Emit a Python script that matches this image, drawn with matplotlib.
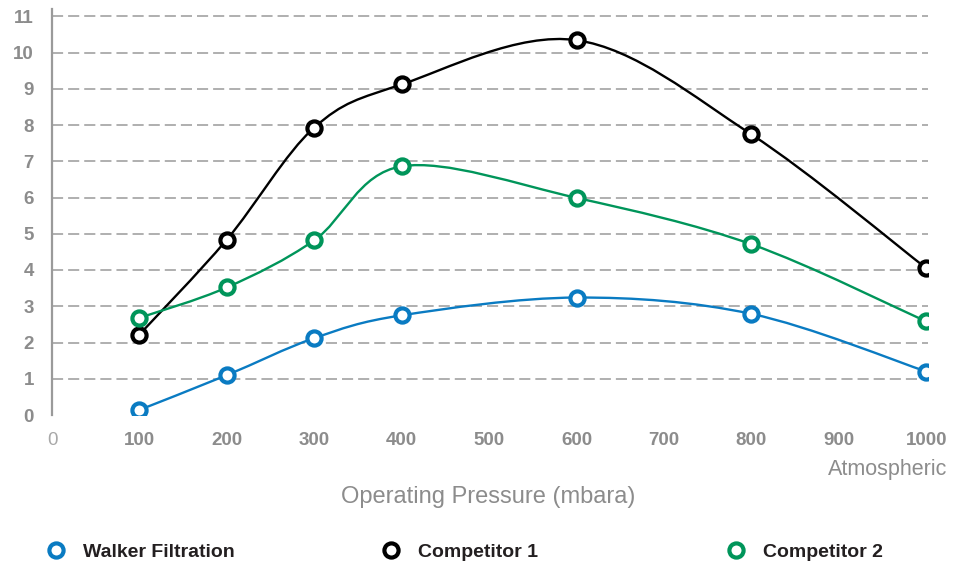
import numpy as np
import matplotlib
matplotlib.use("Agg")
import matplotlib.pyplot as plt
from matplotlib.path import Path
from matplotlib.patches import PathPatch

plt.rcParams['font.family'] = ['Liberation Sans', 'DejaVu Sans']
plt.rcParams['lines.scale_dashes'] = False

# data
pressure = [100, 200, 300, 400, 600, 800, 1000]
walker = [0.14, 1.10, 2.12, 2.75, 3.24, 2.79, 1.20]
comp1 = [2.22, 4.84, 7.93, 9.12, 10.34, 7.74, 4.05]
comp2 = [2.68, 3.52, 4.82, 6.86, 5.99, 4.71, 2.58]
series_names = ["Walker Filtration", "Competitor 1", "Competitor 2"]
series_colors = ["#0a7bc2", "#000000", "#00955a"]
x_ticks = [0, 100, 200, 300, 400, 500, 600, 700, 800, 900, 1000]
y_ticks = list(range(12))

TICK_GREY = "#8c8c8c"


def smooth_path(xs, ys):
    # Excel-like smoothed line: cubic Bezier through every point (Catmull-Rom tangents)
    pts = np.column_stack([xs, ys]).astype(float)
    n = len(pts)
    verts = [pts[0]]
    codes = [Path.MOVETO]
    for i in range(n - 1):
        p_prev = pts[max(i - 1, 0)]
        p0 = pts[i]
        p1 = pts[i + 1]
        p_next = pts[min(i + 2, n - 1)]
        c1 = p0 + (p1 - p_prev) / 6.0
        c2 = p1 - (p_next - p0) / 6.0
        verts += [c1, c2, p1]
        codes += [Path.CURVE4] * 3
    return Path(verts, codes)


fig = plt.figure(figsize=(9.65, 5.67), dpi=100)
ax = fig.add_axes([52 / 965, 1 - 415 / 567, (928 - 52) / 965, (415 - 9) / 567])

ax.set_xlim(0, 1002)
ax.set_ylim(0, 11.2)

for yv in y_ticks[1:]:
    ax.axhline(yv, color="#9a9a9a", lw=1.1, ls=(0, (8, 3.6)), zorder=1)

handles = []
for ys, name, col in zip([walker, comp1, comp2], series_names, series_colors):
    ax.add_patch(PathPatch(smooth_path(pressure, ys), fill=False,
                           edgecolor=col, lw=1.7, zorder=3))
for ys, name, col in zip([walker, comp1, comp2], series_names, series_colors):
    h, = ax.plot(pressure, ys, ls="none", marker="o", ms=10.2, mew=3.0,
                 mfc="white", mec=col, zorder=4, label=name)
    handles.append(h)

for s in ["top", "right", "bottom"]:
    ax.spines[s].set_visible(False)
ax.spines["left"].set_color("#9a9a9a")
ax.spines["left"].set_linewidth(1.6)

ax.set_yticks(y_ticks)
ax.set_yticklabels([str(v) for v in y_ticks], fontsize=13.5, fontweight="bold",
                   color=TICK_GREY)
ax.set_xticks(x_ticks)
ax.set_xticklabels([str(v) for v in x_ticks], fontsize=13.5, fontweight="bold",
                   color=TICK_GREY)
zero_lbl = ax.get_xticklabels()[0]
zero_lbl.set_fontweight("normal")
zero_lbl.set_color("#a8a8a8")
ax.tick_params(axis="y", length=0, pad=13)
ax.tick_params(axis="x", length=0, pad=12)

fig.text(947 / 965, 1 - 470 / 567, "Atmospheric", ha="right", va="center",
         fontsize=15.5, color=TICK_GREY)
fig.text(488 / 965, 1 - 497 / 567, "Operating Pressure (mbara)", ha="center",
         va="center", fontsize=17, color=TICK_GREY)

for h, mx in zip(handles, [56, 391, 736]):
    leg = fig.legend(handles=[h], loc="center left",
                     bbox_to_anchor=((mx - 10) / 965, 1 - 552 / 567),
                     frameon=False, fontsize=14, handlelength=1.0,
                     handletextpad=0.9, borderpad=0, borderaxespad=0)
    for t in leg.get_texts():
        t.set_color("#231f20")
        t.set_fontweight("bold")

fig.savefig("out.png", dpi=100)
